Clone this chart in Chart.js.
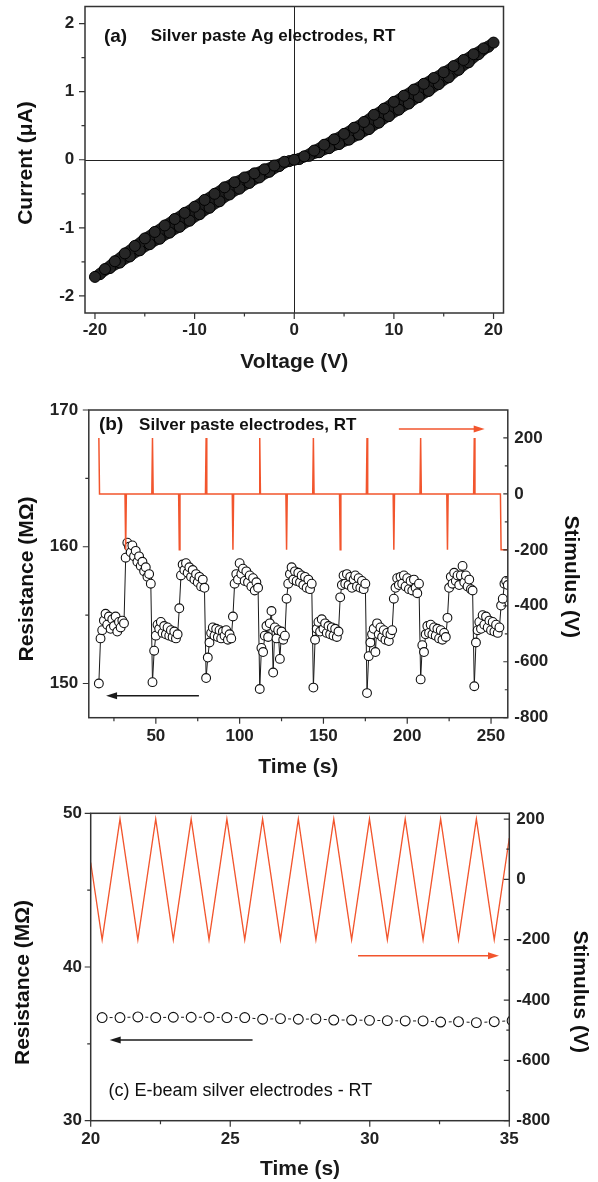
<!DOCTYPE html>
<html>
<head>
<meta charset="utf-8">
<title>Silver electrodes</title>
<script src="https://cdn.jsdelivr.net/npm/chart.js@4.4.1/dist/chart.umd.min.js"></script>
<style>
  body { margin: 0; background: #fff; }
  #page { position: relative; width: 598px; height: 1182px; overflow: hidden; }
  canvas { position: absolute; left: 0; }
</style>
</head>
<body>
<div id="page">
  <canvas id="chartA" width="598" height="380" style="top:0px"></canvas>
  <canvas id="chartB" width="598" height="400" style="top:380px"></canvas>
  <canvas id="chartC" width="598" height="402" style="top:780px"></canvas>
</div>
<script>
/* (a) I-V curve, forward and return sweep */
const ivUpV = [-20,-19,-18,-17,-16,-15,-14,-13,-12,-11,-10,-9,-8,-7,-6,-5,-4,-3,-2,-1,
  0,1,2,3,4,5,6,7,8,9,10,11,12,13,14,15,16,17,18,19,20];
const ivUpI = [-1.72,-1.605,-1.49,-1.375,-1.265,-1.155,-1.06,-0.965,-0.87,-0.78,-0.69,-0.59,-0.50,-0.405,-0.33,-0.26,-0.20,-0.14,-0.085,-0.03,
  0,0.05,0.135,0.22,0.30,0.38,0.47,0.555,0.66,0.75,0.85,0.94,1.03,1.115,1.20,1.285,1.375,1.465,1.55,1.635,1.72];
const ivDownV = [19.5,18.5,17.5,16.5,15.5,14.5,13.5,12.5,11.5,10.5,9.5,8.5,7.5,6.5,5.5,4.5,3.5,2.5,1.5,0.5,
  -0.5,-1.5,-2.5,-3.5,-4.5,-5.5,-6.5,-7.5,-8.5,-9.5,-10.5,-11.5,-12.5,-13.5,-14.5,-15.5,-16.5,-17.5,-18.5,-19.5];
const ivDownI = [1.66,1.55,1.43,1.32,1.21,1.11,1.01,0.92,0.825,0.735,0.64,0.545,0.45,0.37,0.295,0.23,0.17,0.11,0.057,0.01,
  -0.02,-0.093,-0.177,-0.26,-0.34,-0.425,-0.51,-0.61,-0.705,-0.80,-0.895,-0.985,-1.07,-1.16,-1.24,-1.33,-1.42,-1.51,-1.59,-1.68];
const aXTicks = [-20,-10,0,10,20];
const aXMinor = [-15,-5,5,15];
const aYTicks = [-2,-1,0,1,2];
const aYMinor = [-1.5,-0.5,0.5,1.5];

/* (b) silver paste: resistance and pulse stimulus */
const resTimeB = [
  16,17,18,19,20,21,22,23,24,25,26,27,28,29,30,31,32,33,34,35,36,37,38,39,40,41,42,43,44,45,46,47,
  48,49,50,51,52,53,54,55,56,57,58,59,60,61,62,63,64,65,66,67,68,69,70,71,72,73,74,75,76,77,78,79,
  80,81,82,83,84,85,86,87,88,89,90,91,92,93,94,95,96,97,98,99,100,101,102,103,104,105,106,107,108,109,110,111,
  112,113,114,115,116,117,118,119,120,121,122,123,124,125,126,127,128,129,130,131,132,133,134,135,136,137,138,139,140,141,142,143,
  144,145,146,147,148,149,150,151,152,153,154,155,156,157,158,159,160,161,162,163,164,165,166,167,168,169,170,171,172,173,174,175,
  176,177,178,179,180,181,182,183,184,185,186,187,188,189,190,191,192,193,194,195,196,197,198,199,200,201,202,203,204,205,206,207,
  208,209,210,211,212,213,214,215,216,217,218,219,220,221,222,223,224,225,226,227,228,229,230,231,232,233,234,235,236,237,238,239,
  240,241,242,243,244,245,246,247,248,249,250,251,252,253,254,255,256,257,258,259,260];
const resValB = [
  150.0,153.3,153.9,154.6,155.1,154.3,154.9,154.0,154.7,154.2,154.9,153.8,154.5,154.1,154.6,154.4,
  159.2,160.3,160.0,159.6,160.1,159.3,159.7,158.9,159.3,158.6,158.9,158.2,158.5,157.8,158.0,157.3,
  150.1,152.4,153.5,154.3,154.0,154.5,153.7,154.2,153.6,154.1,153.5,153.9,153.4,153.8,153.3,153.6,
  155.5,157.9,158.7,158.3,158.8,158.1,158.5,157.8,158.3,157.6,158.0,157.4,157.8,157.1,157.6,157.0,
  150.4,151.9,153.0,153.7,154.1,153.5,154.0,153.4,153.9,153.3,153.8,153.5,153.9,153.2,153.6,153.3,
  154.9,157.3,158.0,157.6,158.8,158.0,158.4,157.5,158.2,157.4,157.9,157.1,157.7,156.8,157.4,157.0,
  149.6,152.6,152.3,153.5,154.2,153.4,154.4,155.3,150.8,154.1,153.3,153.9,151.8,153.8,153.2,153.5,
  156.2,157.3,158.0,158.5,157.6,158.2,157.5,158.1,157.4,157.9,157.2,157.8,157.0,157.6,156.9,157.3,
  149.7,153.2,154.0,154.5,153.8,154.7,154.0,154.4,153.7,154.2,153.6,154.1,153.5,154.0,153.4,153.8,
  156.3,157.2,157.9,157.3,158.0,157.2,157.8,157.0,157.6,157.9,157.1,157.7,157.0,157.5,156.9,157.3,
  149.3,152.0,153.0,153.6,154.0,152.3,154.4,153.6,154.1,153.4,153.9,153.2,153.7,153.1,153.6,153.9,
  156.2,157.0,157.7,157.2,157.8,157.3,157.9,157.1,157.7,156.9,157.5,156.8,157.6,157.0,156.6,157.3,
  150.3,152.8,152.3,153.6,154.2,153.7,154.3,153.6,154.1,153.5,154.0,153.3,153.9,153.2,153.7,153.4,
  154.8,157.0,157.8,157.3,158.1,157.5,157.9,157.2,157.9,158.6,157.4,157.9,157.1,157.6,156.9,156.8,
  149.8,153.0,153.9,154.5,154.0,155.0,154.3,154.9,154.1,154.6,153.9,154.5,153.8,154.3,153.7,154.1,
  155.7,156.2,157.3,157.5,157.2];
const stimTimeB = [16,16.4,
  31.6,32,32.4, 47.6,48,48.4, 63.6,64,64.4, 79.6,80,80.4, 95.6,96,96.4, 111.6,112,112.4, 127.6,128,128.4,
  143.6,144,144.4, 159.6,160,160.4, 175.6,176,176.4, 191.6,192,192.4, 207.6,208,208.4, 223.6,224,224.4,
  239.6,240,240.4, 255.6,256,260];
const stimValB = [200,0,
  0,-200,0, 0,200,0, 0,-200,0, 0,200,0, 0,-200,0, 0,200,0, 0,-200,0,
  0,200,0, 0,-200,0, 0,200,0, 0,-200,0, 0,200,0, 0,-200,0,
  0,200,0, 0,-200,-200];
const bXTicks = [50,100,150,200,250];
const bXMinor = [25,75,125,175,225];
const bYTicks = [150,160,170];
const bYMinor = [155,165];
const bY2Ticks = [-800,-600,-400,-200,0,200];
const bY2Minor = [-700,-500,-300,-100,100];

/* (c) e-beam silver: resistance and triangle stimulus */
const stimTimeC = [20,20.41,21.05,21.69,22.33,22.96,23.60,24.24,24.88,25.52,26.16,26.80,27.44,
  28.07,28.71,29.35,29.99,30.63,31.27,31.91,32.54,33.18,33.82,34.46,35];
const stimValC = [56,-200,200,-200,200,-200,200,-200,200,-200,200,-200,200,
  -200,200,-200,200,-200,200,-200,200,-200,200,-200,137];
const resTimeC = [20.41,21.05,21.69,22.33,22.96,23.60,24.24,24.88,25.52,26.16,26.80,27.44,
  28.07,28.71,29.35,29.99,30.63,31.27,31.91,32.54,33.18,33.82,34.46,35.10];
const resValC = [36.71,36.71,36.75,36.71,36.73,36.73,36.73,36.71,36.71,36.60,36.64,36.60,
  36.62,36.55,36.55,36.53,36.51,36.49,36.49,36.42,36.44,36.38,36.44,36.51];
const cXTicks = [20,25,30,35];
const cXMinor = [22.5,27.5,32.5];
const cYTicks = [30,40,50];
const cYMinor = [35,45];
const cY2Ticks = [-800,-600,-400,-200,0,200];
const cY2Minor = [-700,-500,-300,-100,100];

const RED = '#f2552d';
const FONT = '"Liberation Sans", Arial, Helvetica, sans-serif';
Chart.defaults.font.family = FONT;
Chart.defaults.color = '#222';

const pts = (xs, ys) => xs.map((x, i) => ({x: x, y: ys[i]}));

// axis with fixed size and hand-picked tick list
function axis(o) {
  return {
    type: 'linear', position: o.pos, min: o.min, max: o.max,
    grid: {display: false, drawTicks: false},
    border: {display: false},
    ticks: {padding: o.pad, autoSkip: false, maxRotation: 0, color: '#222',
      font: {size: 17, weight: 'bold'}},
    title: {display: !!o.title, text: o.title || '', color: '#1a1a1a',
      font: {size: 21, weight: 'bold'}, padding: {top: 0, bottom: o.titlePad || 0}},
    afterBuildTicks: s => { s.ticks = o.ticks.map(v => ({value: v})); },
    afterFit: s => {
      if (s.isHorizontal()) s.height = o.size; else s.width = o.size;
      s.paddingLeft = 0; s.paddingRight = 0; s.paddingTop = 0; s.paddingBottom = 0;
    }
  };
}

function decor(cfg) {
  return {
    id: 'decor',
    beforeDatasetsDraw(chart) {
      if (!cfg.cross) return;
      const {ctx, chartArea: a, scales} = chart;
      const x0 = Math.round(scales.x.getPixelForValue(0)) + 0.5;
      const y0 = Math.round(scales.y.getPixelForValue(0)) + 0.5;
      ctx.save();
      ctx.strokeStyle = '#222';
      ctx.lineWidth = 1;
      ctx.beginPath();
      ctx.moveTo(x0, a.top); ctx.lineTo(x0, a.bottom);
      ctx.moveTo(a.left, y0); ctx.lineTo(a.right, y0);
      ctx.stroke();
      ctx.restore();
    },
    afterDraw(chart) {
      const {ctx, chartArea: a, scales} = chart;
      ctx.save();
      ctx.strokeStyle = '#333';
      ctx.lineWidth = 1.5;
      ctx.strokeRect(a.left, a.top, a.right - a.left, a.bottom - a.top);

      // tick marks: bottom/left outward, right inward
      ctx.lineWidth = 1.2;
      ctx.beginPath();
      cfg.ticks.forEach(t => {
        const s = scales[t.axis];
        t.values.forEach(v => {
          const p = s.getPixelForValue(v);
          if (s.position === 'bottom') { ctx.moveTo(p, a.bottom); ctx.lineTo(p, a.bottom + t.len); }
          else if (s.position === 'left') { ctx.moveTo(a.left, p); ctx.lineTo(a.left - t.len, p); }
          else { ctx.moveTo(a.right, p); ctx.lineTo(a.right - t.len, p); }
        });
      });
      ctx.stroke();

      (cfg.arrows || []).forEach(ar => {
        const x1 = scales.x.getPixelForValue(ar.from);
        const x2 = scales.x.getPixelForValue(ar.to);
        const y = scales[ar.axis].getPixelForValue(ar.at);
        const dir = Math.sign(x2 - x1);
        ctx.strokeStyle = ar.color;
        ctx.fillStyle = ar.color;
        ctx.lineWidth = 1.6;
        ctx.beginPath();
        ctx.moveTo(x1, y); ctx.lineTo(x2 - dir * 8, y);
        ctx.stroke();
        ctx.beginPath();
        ctx.moveTo(x2, y);
        ctx.lineTo(x2 - dir * 11, y - 3.5);
        ctx.lineTo(x2 - dir * 11, y + 3.5);
        ctx.closePath();
        ctx.fill();
      });

      ctx.fillStyle = '#111';
      ctx.textBaseline = 'middle';
      (cfg.texts || []).forEach(tx => {
        ctx.font = tx.font + ' ' + FONT;
        ctx.textAlign = 'left';
        ctx.fillText(tx.text, scales.x.getPixelForValue(tx.x), scales[tx.axis].getPixelForValue(tx.y));
      });

      // rotated axis titles
      (cfg.titles || []).forEach(tt => {
        ctx.save();
        ctx.translate(tt.x, tt.y);
        ctx.rotate(tt.rot * Math.PI / 180);
        ctx.font = 'bold 21px ' + FONT;
        ctx.textAlign = 'center';
        ctx.fillText(tt.text, 0, 0);
        ctx.restore();
      });
      ctx.restore();
    }
  };
}

const common = {
  responsive: false,
  animation: false,
  events: [],
  plugins: {legend: {display: false}, tooltip: {enabled: false}, colors: {enabled: false}}
};

/* chart (a): each sweep is a thick dark line under a chain of circles */
new Chart(document.getElementById('chartA'), {
  type: 'scatter',
  data: {datasets: [
    {data: pts(ivUpV, ivUpI), showLine: true, borderWidth: 10, borderColor: '#1e1e1e',
      pointRadius: 5.5, pointBorderWidth: 1, pointBackgroundColor: '#262626', pointBorderColor: '#000',
      backgroundColor: '#262626'},
    {data: pts(ivDownV, ivDownI), showLine: true, borderWidth: 10, borderColor: '#1e1e1e',
      pointRadius: 5.5, pointBorderWidth: 1, pointBackgroundColor: '#262626', pointBorderColor: '#000',
      backgroundColor: '#262626'},
    {data: pts([0], [0]), pointRadius: 3.5, pointBorderWidth: 1,
      backgroundColor: '#fff', borderColor: '#333'}
  ]},
  options: Object.assign({}, common, {
    layout: {padding: {left: 0, top: 6, right: 94.5, bottom: 0}},
    scales: {
      x: axis({pos: 'bottom', min: -21, max: 21, ticks: aXTicks, size: 67, pad: 6.8,
        title: 'Voltage (V)', titlePad: 5}),
      y: axis({pos: 'left', min: -2.25, max: 2.25, ticks: aYTicks, size: 85, pad: 10.7})
    }
  }),
  plugins: [decor({
    cross: true,
    ticks: [
      {axis: 'x', values: aXTicks, len: 6}, {axis: 'x', values: aXMinor, len: 3.5},
      {axis: 'y', values: aYTicks, len: 6}, {axis: 'y', values: aYMinor, len: 3.5}
    ],
    texts: [
      {text: '(a)', x: -19.1, y: 1.81, axis: 'y', font: 'bold 19px'},
      {text: 'Silver paste Ag electrodes, RT', x: -14.4, y: 1.81, axis: 'y', font: 'bold 17px'}
    ],
    titles: [{text: 'Current (\u03bcA)', x: 26.7, y: 163, rot: -90}]
  })]
});

/* chart (b) */
new Chart(document.getElementById('chartB'), {
  type: 'scatter',
  data: {datasets: [
    {data: pts(stimTimeB, stimValB), yAxisID: 'y2', showLine: true, pointRadius: 0,
      borderColor: RED, backgroundColor: RED, borderWidth: 1.5, order: 0},
    {data: pts(resTimeB, resValB), yAxisID: 'y', showLine: true, borderWidth: 1,
      borderColor: '#1a1a1a', backgroundColor: '#fff', pointRadius: 4.4, pointBorderWidth: 1.1,
      pointBorderColor: '#111', pointBackgroundColor: '#fff', order: 1}
  ]},
  options: Object.assign({}, common, {
    layout: {padding: {left: 0, top: 30, right: 0, bottom: 0}},
    scales: {
      x: axis({pos: 'bottom', min: 10, max: 260, ticks: bXTicks, size: 62.3, pad: 8.8,
        title: 'Time (s)', titlePad: 0}),
      y: axis({pos: 'left', min: 147.5, max: 170, ticks: bYTicks, size: 88.8, pad: 10.7}),
      y2: axis({pos: 'right', min: -800, max: 300, ticks: bY2Ticks, size: 90.2, pad: 6.5})
    }
  }),
  plugins: [decor({
    ticks: [
      {axis: 'x', values: bXTicks, len: 6}, {axis: 'x', values: bXMinor, len: 3.5},
      {axis: 'y', values: bYTicks, len: 6}, {axis: 'y', values: bYMinor, len: 3.5},
      {axis: 'y2', values: bY2Ticks, len: 4.5}, {axis: 'y2', values: bY2Minor, len: 3}
    ],
    arrows: [
      {from: 75.7, to: 20.3, at: 149.1, axis: 'y', color: '#1a1a1a'},
      {from: 195, to: 246.2, at: 232, axis: 'y2', color: RED}
    ],
    texts: [
      {text: '(b)', x: 16.1, y: 168.9, axis: 'y', font: 'bold 19px'},
      {text: 'Silver paste electrodes, RT', x: 40, y: 168.9, axis: 'y', font: 'bold 17px'}
    ],
    titles: [
      {text: 'Resistance (M\u03a9)', x: 27.6, y: 199, rot: -90},
      {text: 'Stimulus (V)', x: 570.5, y: 196.7, rot: 90}
    ]
  })]
});

/* chart (c) */
new Chart(document.getElementById('chartC'), {
  type: 'scatter',
  data: {datasets: [
    {data: pts(stimTimeC, stimValC), yAxisID: 'y2', showLine: true, pointRadius: 0,
      borderColor: RED, backgroundColor: RED, borderWidth: 1.3},
    {data: pts(resTimeC, resValC), yAxisID: 'y', showLine: true, borderWidth: 1,
      borderDash: [3, 14.86], borderDashOffset: 10.4,
      borderColor: '#1a1a1a', backgroundColor: '#fff', pointRadius: 4.9, pointBorderWidth: 1.1,
      pointBorderColor: '#111', pointBackgroundColor: '#fff'}
  ]},
  options: Object.assign({}, common, {
    layout: {padding: {left: 0, top: 33.3, right: 0, bottom: 0}},
    scales: {
      x: axis({pos: 'bottom', min: 20, max: 35, ticks: cXTicks, size: 61.3, pad: 8.1,
        title: 'Time (s)', titlePad: 0}),
      y: axis({pos: 'left', min: 30, max: 50, ticks: cYTicks, size: 90.7, pad: 8.8}),
      y2: axis({pos: 'right', min: -800, max: 219, ticks: cY2Ticks, size: 88.7, pad: 7})
    }
  }),
  plugins: [decor({
    ticks: [
      {axis: 'x', values: cXTicks, len: 6}, {axis: 'x', values: cXMinor, len: 3.5},
      {axis: 'y', values: cYTicks, len: 6}, {axis: 'y', values: cYMinor, len: 3.5},
      {axis: 'y2', values: cY2Ticks, len: 5.5}, {axis: 'y2', values: cY2Minor, len: 3}
    ],
    arrows: [
      {from: 25.8, to: 20.68, at: 35.25, axis: 'y', color: '#1a1a1a'},
      {from: 29.58, to: 34.63, at: -253, axis: 'y2', color: RED}
    ],
    texts: [
      {text: '(c) E-beam silver electrodes - RT', x: 20.64, y: 31.9, axis: 'y', font: '18px'}
    ],
    titles: [
      {text: 'Resistance (M\u03a9)', x: 23.4, y: 202.5, rot: -90},
      {text: 'Stimulus (V)', x: 580, y: 211.7, rot: 90}
    ]
  })]
});
</script>
</body>
</html>
